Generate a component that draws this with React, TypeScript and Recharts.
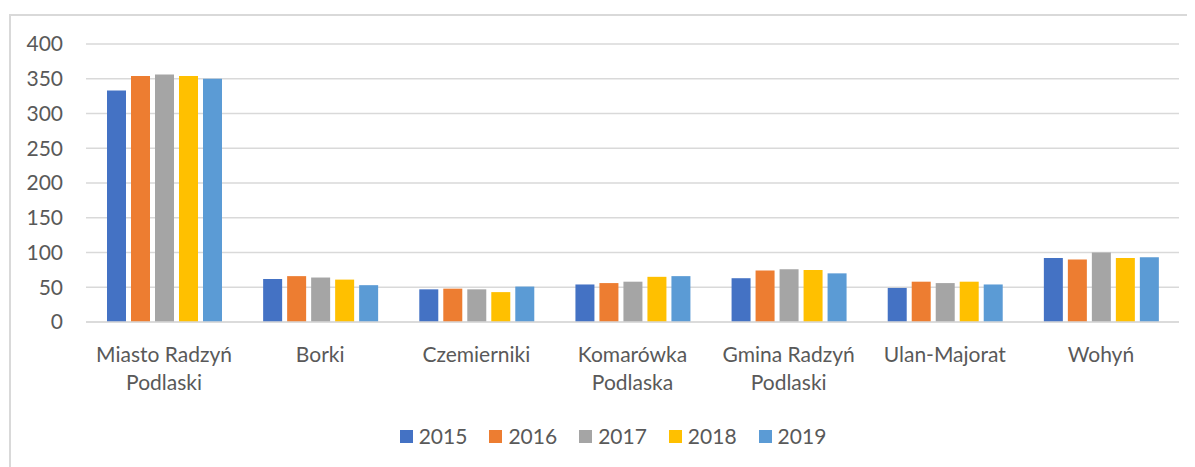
import { Bar, BarChart, CartesianGrid, Legend, XAxis, YAxis } from "recharts";

const categories = [
  "Miasto Radzyń\nPodlaski",
  "Borki",
  "Czemierniki",
  "Komarówka\nPodlaska",
  "Gmina Radzyń\nPodlaski",
  "Ulan-Majorat",
  "Wohyń",
];

const v2015 = [333, 62, 47, 54, 63, 49, 92];
const v2016 = [354, 66, 48, 56, 74, 58, 90];
const v2017 = [356, 64, 47, 58, 76, 56, 100];
const v2018 = [354, 61, 43, 65, 75, 58, 92];
const v2019 = [350, 53, 51, 66, 70, 54, 93];

const yTicks = [0, 50, 100, 150, 200, 250, 300, 350, 400];

const series = [
  { key: "2015", values: v2015, color: "#4472C4" },
  { key: "2016", values: v2016, color: "#ED7D31" },
  { key: "2017", values: v2017, color: "#A5A5A5" },
  { key: "2018", values: v2018, color: "#FFC000" },
  { key: "2019", values: v2019, color: "#5B9BD5" },
];

const data = categories.map((name, i) => {
  const row: Record<string, string | number> = { name };
  series.forEach((s) => {
    row[s.key] = s.values[i];
  });
  return row;
});

const FONT = "Lato, 'Open Sans', sans-serif";
const TEXT = "#595959";

function CategoryTick({ x, y, payload }: any) {
  const lines = String(payload.value).split("\n");
  return (
    <text x={x} y={y} textAnchor="middle" fill={TEXT} fontSize={21} fontFamily={FONT}>
      {lines.map((line, i) => (
        <tspan key={i} x={x} dy={i === 0 ? 40 : 28}>
          {line}
        </tspan>
      ))}
    </text>
  );
}

function LegendRow() {
  return (
    <div
      style={{
        display: "flex",
        justifyContent: "center",
        gap: 22,
        paddingLeft: 20,
        fontFamily: FONT,
      }}
    >
      {series.map((s) => (
        <div key={s.key} style={{ display: "flex", alignItems: "center", gap: 6 }}>
          <span style={{ width: 13, height: 13, background: s.color, display: "inline-block" }} />
          <span style={{ color: TEXT, fontSize: 21, lineHeight: "24px" }}>{s.key}</span>
        </div>
      ))}
    </div>
  );
}

export default function App() {
  return (
    <div
      style={{
        marginLeft: 1,
        marginTop: 6,
        width: 1184,
        height: 451,
        borderTop: "2px solid #d9d9d9",
        borderLeft: "2px solid #d9d9d9",
        background: "#fff",
      }}
    >
      <BarChart
        width={1184}
        height={451}
        data={data}
        margin={{ top: 28, right: 16, left: 15, bottom: 61 }}
        barCategoryGap={21}
        barGap={5}
      >
        <CartesianGrid vertical={false} stroke="#d9d9d9" strokeWidth={1.5} />
        <XAxis
          dataKey="name"
          axisLine={{ stroke: "#d9d9d9", strokeWidth: 1.5 }}
          tickLine={false}
          tickSize={0}
          tickMargin={0}
          height={60}
          interval={0}
          tick={<CategoryTick />}
        />
        <YAxis
          domain={[0, 400]}
          ticks={yTicks}
          width={60}
          axisLine={false}
          tickLine={false}
          tickSize={0}
          tickMargin={23}
          tick={{ fill: TEXT, fontSize: 21, fontFamily: FONT }}
        />
        <Legend
          content={<LegendRow />}
          wrapperStyle={{ top: 408, left: 0, width: 1184 }}
        />
        {series.map((s) => (
          <Bar key={s.key} dataKey={s.key} fill={s.color} isAnimationActive={false} />
        ))}
      </BarChart>
    </div>
  );
}
